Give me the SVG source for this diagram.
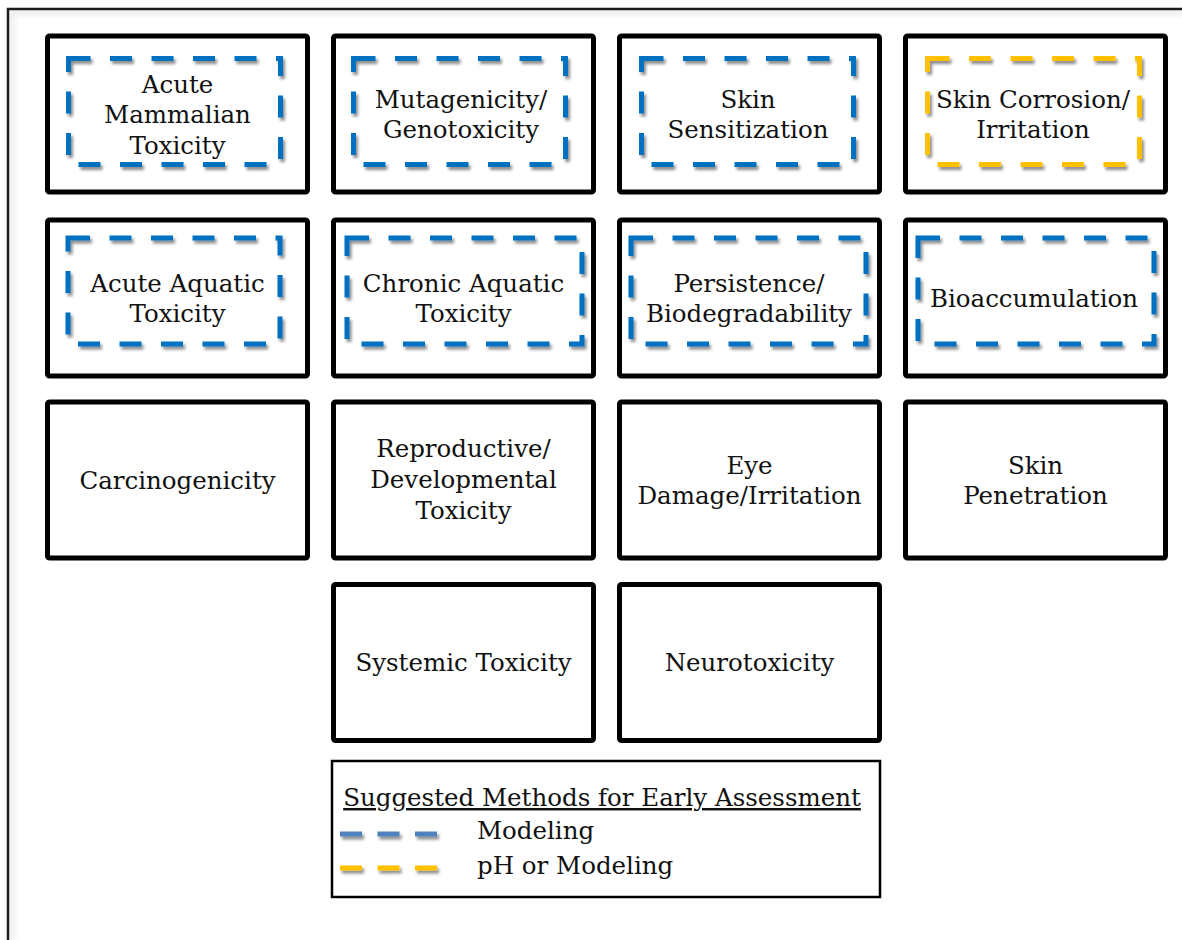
<svg xmlns="http://www.w3.org/2000/svg" width="1182" height="940" viewBox="0 0 1182 940">
<defs>
<filter id="sh" x="-10%" y="-10%" width="130%" height="130%">
<feDropShadow dx="2" dy="3" stdDeviation="1.6" flood-color="#000" flood-opacity="0.45"/>
</filter>
<filter id="shu" filterUnits="userSpaceOnUse" x="0" y="0" width="1182" height="940">
<feDropShadow dx="2" dy="3" stdDeviation="1.6" flood-color="#000" flood-opacity="0.45"/>
</filter>
<filter id="fsh" x="-5%" y="-5%" width="110%" height="110%">
<feDropShadow dx="3" dy="3" stdDeviation="3" flood-color="#000" flood-opacity="0.18"/>
</filter>
</defs>
<style>
.box{fill:#fff;stroke:#000;stroke-width:5;}
.blue{fill:none;stroke:#0070C0;stroke-width:5;stroke-dasharray:22 19.5;filter:url(#sh);}
.yel{fill:none;stroke:#FFC000;stroke-width:5;stroke-dasharray:22 19.5;filter:url(#sh);}
.t{font-family:"DejaVu Serif","Liberation Serif",serif;font-size:24.5px;fill:#111;text-anchor:middle;}
.lt{font-family:"DejaVu Serif","Liberation Serif",serif;font-size:24.5px;fill:#111;}
</style>
<rect width="1182" height="940" fill="#fff"/>
<g id="frame">
<path d="M8 940 V9 H1182" fill="none" stroke="#1a1a1a" stroke-width="2.5" filter="url(#fsh)"/>
</g>

<g id="acute-mammalian">
<rect class="box" x="47.5" y="36" width="260" height="156" rx="2"/>
<rect class="blue" x="68.5" y="58.5" width="212" height="106"/>
<text class="t" x="177.5" y="92.5">Acute</text>
<text class="t" x="177.5" y="123">Mammalian</text>
<text class="t" x="177.5" y="153.5">Toxicity</text>
</g>
<g id="mutagenicity">
<rect class="box" x="333.5" y="36" width="260" height="156" rx="2"/>
<rect class="blue" x="353.5" y="58.5" width="212" height="106"/>
<text class="t" x="461" y="107.5">Mutagenicity/</text>
<text class="t" x="461" y="138">Genotoxicity</text>
</g>
<g id="skin-sensitization">
<rect class="box" x="619.5" y="36" width="260" height="156" rx="2"/>
<rect class="blue" x="641.5" y="58.5" width="212" height="106"/>
<text class="t" x="748" y="107.5">Skin</text>
<text class="t" x="748" y="138">Sensitization</text>
</g>
<g id="skin-corrosion">
<rect class="box" x="905.5" y="36" width="260" height="156" rx="2"/>
<rect class="yel" x="927.5" y="58.5" width="212" height="106"/>
<text class="t" x="1033" y="107.5">Skin Corrosion/</text>
<text class="t" x="1033" y="138">Irritation</text>
</g>

<g id="acute-aquatic">
<rect class="box" x="47.5" y="220" width="260" height="156" rx="2"/>
<rect class="blue" x="68" y="238" width="212" height="106"/>
<text class="t" x="177.5" y="291.5">Acute Aquatic</text>
<text class="t" x="177.5" y="322">Toxicity</text>
</g>
<g id="chronic-aquatic">
<rect class="box" x="333.5" y="220" width="260" height="156" rx="2"/>
<rect class="blue" x="347" y="238" width="235" height="106"/>
<text class="t" x="463.5" y="291.5">Chronic Aquatic</text>
<text class="t" x="463.5" y="322">Toxicity</text>
</g>
<g id="persistence">
<rect class="box" x="619.5" y="220" width="260" height="156" rx="2"/>
<rect class="blue" x="631" y="238" width="235" height="106"/>
<text class="t" x="749" y="291.5">Persistence/</text>
<text class="t" x="749" y="322">Biodegradability</text>
</g>
<g id="bioaccumulation">
<rect class="box" x="905.5" y="220" width="260" height="156" rx="2"/>
<rect class="blue" x="918" y="238" width="236" height="106"/>
<text class="t" x="1034" y="306.5">Bioaccumulation</text>
</g>

<g id="carcinogenicity">
<rect class="box" x="47.5" y="402" width="260" height="156" rx="2"/>
<text class="t" x="177.5" y="489">Carcinogenicity</text>
</g>
<g id="reproductive">
<rect class="box" x="333.5" y="402" width="260" height="156" rx="2"/>
<text class="t" x="463.5" y="457">Reproductive/</text>
<text class="t" x="463.5" y="488">Developmental</text>
<text class="t" x="463.5" y="519">Toxicity</text>
</g>
<g id="eye-damage">
<rect class="box" x="619.5" y="402" width="260" height="156" rx="2"/>
<text class="t" x="749.5" y="473.5">Eye</text>
<text class="t" x="749.5" y="504">Damage/Irritation</text>
</g>
<g id="skin-penetration">
<rect class="box" x="905.5" y="402" width="260" height="156" rx="2"/>
<text class="t" x="1035.5" y="473.5">Skin</text>
<text class="t" x="1035.5" y="504">Penetration</text>
</g>

<g id="systemic">
<rect class="box" x="333.5" y="584.5" width="260" height="156" rx="2"/>
<text class="t" x="463.5" y="671">Systemic Toxicity</text>
</g>
<g id="neurotoxicity">
<rect class="box" x="619.5" y="584.5" width="260" height="156" rx="2"/>
<text class="t" x="749.5" y="671">Neurotoxicity</text>
</g>

<g id="legend">
<rect x="332" y="761" width="548" height="136" fill="#fff" stroke="#000" stroke-width="2.5"/>
<text class="t" x="602" y="806" text-decoration="underline">Suggested Methods for Early Assessment</text>
<path d="M340 834 H437" fill="none" stroke="#4F81BD" stroke-width="5" stroke-dasharray="22 15.5" filter="url(#shu)"/>
<path d="M340 868 H437" fill="none" stroke="#FFC000" stroke-width="5" stroke-dasharray="22 15.5" filter="url(#shu)"/>
<text class="lt" x="477" y="839">Modeling</text>
<text class="lt" x="477" y="874">pH or Modeling</text>
</g>
<g id="connectors"></g>
</svg>
